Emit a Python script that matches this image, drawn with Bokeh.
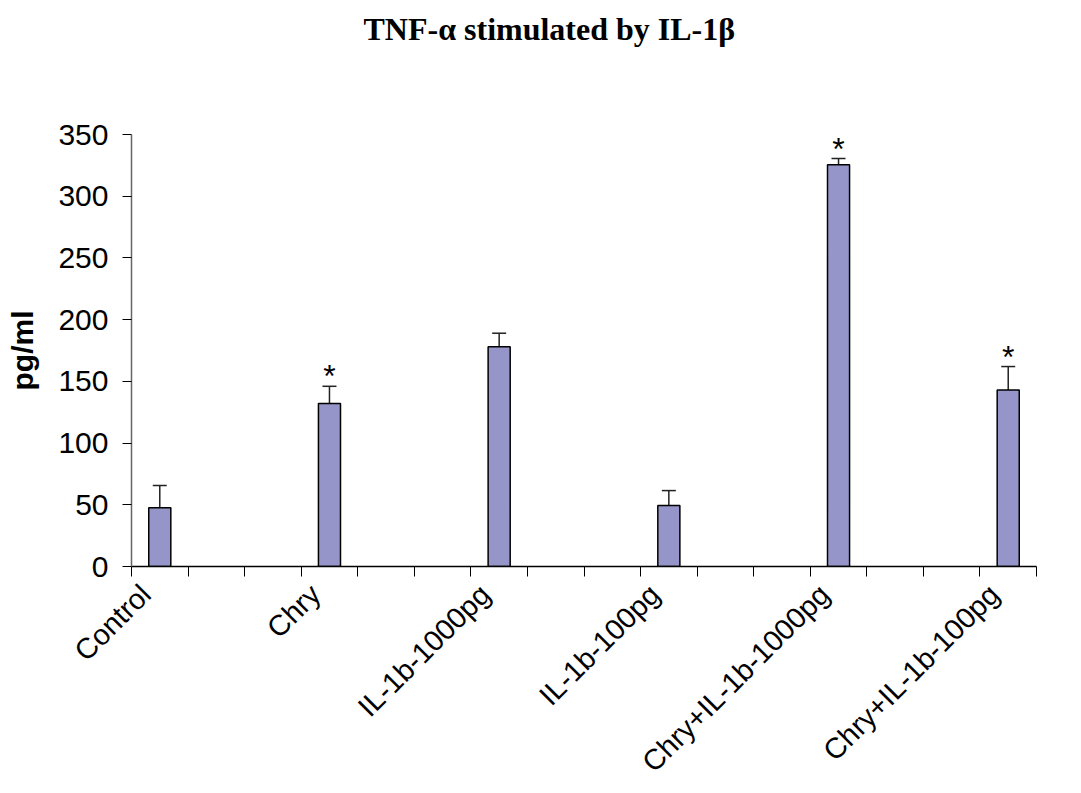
import math
from bokeh.plotting import figure
from bokeh.models import Range1d, FixedTicker, Whisker, TeeHead, ColumnDataSource, Title
from bokeh.core.properties import value
from bokeh.embed import file_html
from bokeh.resources import INLINE

title_text = "TNF-α stimulated by IL-1β"
categories = ["Control", "Chry", "IL-1b-1000pg", "IL-1b-100pg",
              "Chry+IL-1b-1000pg", "Chry+IL-1b-100pg"]
means = [47.6, 132, 178, 49.5, 325.5, 143]
errors = [18, 14, 11, 12, 5, 19]
marks = ["", "*", "", "", "*", "*"]
y_ticks = [0, 50, 100, 150, 200, 250, 300, 350]

n_slots = 3 * len(categories) - 2  # 16 category slots on the axis
xs = [3 * i + 0.5 for i in range(len(categories))]
label_pos = [x - 0.25 for x in xs]
uppers = [m + e for m, e in zip(means, errors)]

src = ColumnDataSource(dict(x=xs, top=means, upper=uppers, mark=marks))

p = figure(width=1081, height=793, output_backend="svg", toolbar_location=None,
           x_range=Range1d(0, n_slots), y_range=Range1d(0, 350), title=None,
           min_border_left=131, min_border_right=45, min_border_top=134,
           min_border_bottom=227)
p.background_fill_color = "white"
p.border_fill_color = "white"
p.outline_line_color = None
p.xgrid.visible = False
p.ygrid.visible = False

# spacer panel between the frame and the title
spacer = Title(text=" ", text_font_size="10px", standoff=75)
p.add_layout(spacer, "above")
main_title = Title(text=title_text, text_font="Liberation Serif", text_font_style="bold",
                   text_font_size="32px", text_color="black", align="left",
                   offset=232, standoff=0)
p.add_layout(main_title, "above")

p.vbar(x="x", top="top", width=0.39, source=src, fill_color="#9595C9",
       line_color="black", line_width=1.5)

w = Whisker(base="x", upper="upper", lower="top", source=src,
            lower_head=None, upper_head=TeeHead(size=14, line_color="#222222", line_width=1.5),
            line_color="#222222", line_width=1.5)
p.add_layout(w)

p.text(x="x", y="upper", text="mark", source=src, text_align="center",
       text_baseline="alphabetic", y_offset=-10, text_font=value("Liberation Sans"),
       text_font_size="32px", text_color="black")

# x axis
xa = p.xaxis[0]
xa.ticker = FixedTicker(ticks=label_pos, minor_ticks=list(range(n_slots + 1)))
xa.major_label_overrides = {x: c for x, c in zip(label_pos, categories)}
xa.major_label_orientation = math.pi / 4
xa.major_tick_out = 0
xa.major_tick_in = 0
xa.minor_tick_out = 10
xa.minor_tick_in = 0
xa.minor_tick_line_color = "black"
xa.axis_line_color = "black"
xa.axis_line_width = 1.5
xa.major_label_text_font = "Liberation Sans"
xa.major_label_text_font_size = "29px"
xa.major_label_text_color = "black"
xa.major_label_standoff = 13

ya = p.yaxis[0]
ya.ticker = FixedTicker(ticks=y_ticks)
ya.minor_tick_line_color = None
ya.major_tick_out = 9
ya.major_tick_in = 0
ya.major_tick_line_color = "black"
ya.axis_line_color = "#666666"
ya.axis_line_width = 1.5
ya.major_label_text_font = "Liberation Sans"
ya.major_label_text_font_size = "30px"
ya.major_label_text_color = "black"
ya.major_label_standoff = 14
ya.axis_label = "pg/ml"
ya.axis_label_text_font = "Liberation Sans"
ya.axis_label_text_font_style = "bold"
ya.axis_label_text_font_size = "30px"
ya.axis_label_text_color = "black"
ya.axis_label_standoff = 16

open("out.html", "w").write(file_html(p, INLINE))
